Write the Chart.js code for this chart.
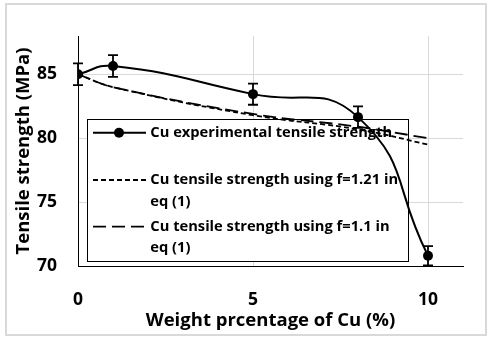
<!DOCTYPE html>
<html><head><meta charset="utf-8">
<script src="https://cdn.jsdelivr.net/npm/chart.js@4"></script>
<style>
html,body{margin:0;padding:0;background:#fff;}
#wrap{position:relative;width:491px;height:342px;overflow:hidden;}
#frame{position:absolute;left:5px;top:3px;width:478px;height:329px;border:2px solid #d9d9d9;}
canvas{position:absolute;left:0;top:0;}
</style></head><body>
<div id="wrap"><div id="frame"></div><canvas id="c" width="491" height="342"></canvas></div>
<script>
const copperWt = [0, 1, 5, 8, 10];
const expStrength = [85.0, 85.65, 83.45, 81.65, 70.8];
const expError = [0.85, 0.85, 0.83, 0.84, 0.75];
const f121Strength = [85.0, 84.0, 81.8, 80.7, 79.5];
const f110Strength = [85.0, 84.0, 81.9, 80.9, 80.0];
const xTicks = [0, 5, 10];
const yTicks = [70, 75, 80, 85];
const seriesNames = [
  ['Cu experimental tensile strength'],
  ['Cu tensile strength using f=1.21 in', 'eq (1)'],
  ['Cu tensile strength using f=1.1 in', 'eq (1)']
];
const xTitle = 'Weight prcentage of Cu (%)';
const yTitle = 'Tensile strength (MPa)';

const FONT = '"Open Sans"';
const toXY = (ys) => ys.map((y, i) => ({x: copperWt[i], y}));

const errorBars = {
  id: 'errorBars',
  afterDatasetsDraw(chart) {
    const {ctx, scales: {x, y}} = chart;
    ctx.save();
    ctx.strokeStyle = '#000';
    ctx.lineWidth = 1.8;
    expStrength.forEach((v, i) => {
      const px = x.getPixelForValue(copperWt[i]);
      const t = y.getPixelForValue(v + expError[i]);
      const b = y.getPixelForValue(v - expError[i]);
      ctx.beginPath();
      ctx.moveTo(px, t); ctx.lineTo(px, b);
      ctx.moveTo(px - 5, t); ctx.lineTo(px + 5, t);
      ctx.moveTo(px - 5, b); ctx.lineTo(px + 5, b);
      ctx.stroke();
    });
    ctx.restore();
  }
};

const boxLegend = {
  id: 'boxLegend',
  beforeDatasetsDraw(chart) {
    const {ctx, chartArea: ca} = chart;
    const L = ca.left + 8.7, T = ca.top + 83.3, W = 320.6, H = 141.7;
    ctx.save();
    ctx.fillStyle = '#fff';
    ctx.fillRect(L, T, W, H);
    ctx.strokeStyle = '#000';
    ctx.lineWidth = 1;
    ctx.strokeRect(Math.round(L) + 0.5, Math.round(T) + 0.5, Math.round(W), Math.round(H));
    const rowY = [[13.4], [60.7, 82.4], [107.4, 129]];
    ctx.font = 'bold 14.7px ' + FONT;
    ctx.textBaseline = 'middle';
    ctx.fillStyle = '#000';
    chart.data.datasets.forEach((ds, i) => {
      const sy = T + rowY[i][0];
      ctx.beginPath();
      ctx.strokeStyle = '#000';
      ctx.lineWidth = ds.borderWidth;
      ctx.setLineDash(ds.borderDash || []);
      ctx.moveTo(L + 6.3, sy); ctx.lineTo(L + 59.3, sy);
      ctx.stroke();
      ctx.setLineDash([]);
      if (ds.pointRadius > 0) {
        ctx.beginPath();
        ctx.arc(L + 32.3, sy, ds.pointRadius, 0, Math.PI * 2);
        ctx.fill();
      }
      seriesNames[i].forEach((line, j) => {
        ctx.fillText(line, L + 63.6, T + rowY[i][j]);
      });
    });
    ctx.restore();
  }
};

const tickFont = {family: FONT, size: 17.5, weight: 'bold'};
const titleFont = {family: FONT, size: 18.5, weight: 'bold'};

new Chart(document.getElementById('c'), {
  type: 'line',
  data: {
    datasets: [
      {label: seriesNames[0].join(' '), data: toXY(expStrength), borderColor: '#000', backgroundColor: '#000',
       borderWidth: 2, pointRadius: 5, pointBackgroundColor: '#000', pointBorderWidth: 0, tension: 0.5},
      {label: seriesNames[1].join(' '), data: toXY(f121Strength), borderColor: '#000', borderWidth: 1.8,
       borderDash: [5, 3], pointRadius: 0, tension: 0.4},
      {label: seriesNames[2].join(' '), data: toXY(f110Strength), borderColor: '#000', borderWidth: 1.8,
       borderDash: [13, 6], pointRadius: 0, tension: 0.4}
    ]
  },
  options: {
    responsive: false,
    animation: false,
    devicePixelRatio: 1,
    layout: {padding: {top: 36, right: 28, left: 0, bottom: 0}},
    plugins: {legend: {display: false}, tooltip: {enabled: false}},
    scales: {
      x: {
        type: 'linear', min: 0, max: 11,
        afterBuildTicks: s => { s.ticks = xTicks.map(v => ({value: v})); },
        afterFit: s => { s.height = 76; },
        grid: {color: '#d9d9d9', drawTicks: false, lineWidth: 1},
        border: {color: '#000', width: 1},
        ticks: {font: tickFont, color: '#000', padding: 24, maxRotation: 0},
        title: {display: true, text: xTitle, font: titleFont, color: '#000', padding: {top: 0, bottom: 9.9}}
      },
      y: {
        min: 70, max: 88,
        afterBuildTicks: s => { s.ticks = yTicks.map(v => ({value: v})); },
        afterFit: s => { s.width = 78; },
        grid: {color: '#d9d9d9', drawTicks: false, lineWidth: 1},
        border: {color: '#000', width: 1},
        ticks: {font: tickFont, color: '#000', padding: 21},
        title: {display: true, text: yTitle, font: titleFont, color: '#000', padding: {top: 12.9, bottom: 0}}
      }
    }
  },
  plugins: [errorBars, boxLegend]
});
</script>
</body></html>
